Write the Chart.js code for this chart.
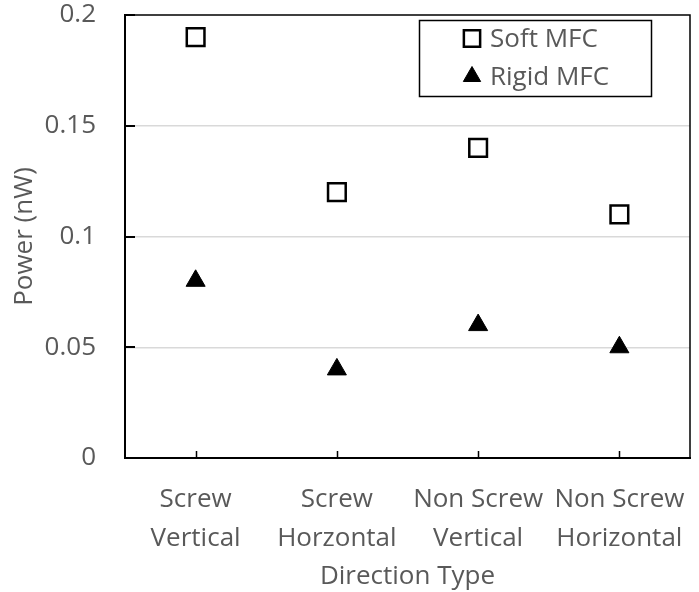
<!DOCTYPE html>
<html>
<head>
<meta charset="utf-8">
<script src="https://cdn.jsdelivr.net/npm/chart.js@4"></script>
<style>
  html, body { margin: 0; padding: 0; background: #fff; }
  #wrap { width: 699px; height: 592px; }
</style>
</head>
<body>
<div id="wrap"><canvas id="powerChart" width="699" height="592"></canvas></div>
<script>
// data
var directionTypes = [
    ['Screw', 'Vertical'],
    ['Screw', 'Horzontal'],
    ['Non Screw', 'Vertical'],
    ['Non Screw', 'Horizontal']
];
var softMFC = [0.19, 0.12, 0.14, 0.11];
var rigidMFC = [0.08, 0.04, 0.06, 0.05];
var powerTicks = [0, 0.05, 0.1, 0.15, 0.2];
var powerTickLabels = ['0', '0.05', '0.1', '0.15', '0.2'];

var textGrey = '#595959';
var fontFamily = '"Open Sans", Lato, sans-serif';
var fontSize = 26;
var plotRight = 690;

// frame, inward tick marks and the boxed legend
var framePlugin = {
    id: 'frame',
    afterLayout: function(chart) {
        // pin the right edge of the plot like the original
        var area = chart.chartArea;
        var xScale = chart.scales.x;
        area.right = plotRight;
        area.width = area.right - area.left;
        xScale.right = plotRight;
        xScale.width = xScale.right - xScale.left;
        xScale.configure();
        xScale._labelItems = null;
        xScale._gridLineItems = null;
        chart.scales.y._gridLineItems = null;
    },
    afterDatasetsDraw: function(chart) {
        var ctx = chart.ctx;
        var area = chart.chartArea;
        var xScale = chart.scales.x;
        var yScale = chart.scales.y;
        ctx.save();
        ctx.strokeStyle = '#000';

        // top and right border
        ctx.lineWidth = 1.5;
        ctx.beginPath();
        ctx.moveTo(area.left, area.top);
        ctx.lineTo(area.right, area.top);
        ctx.lineTo(area.right, area.bottom);
        ctx.stroke();

        // y ticks pointing inwards
        ctx.lineWidth = 2;
        ctx.beginPath();
        powerTicks.forEach(function(v) {
            var y = Math.round(yScale.getPixelForValue(v));
            ctx.moveTo(area.left, y);
            ctx.lineTo(area.left + 10, y);
        });
        ctx.stroke();

        // x ticks pointing inwards
        ctx.lineWidth = 1.5;
        ctx.beginPath();
        directionTypes.forEach(function(lbl, i) {
            var x = Math.round(xScale.getPixelForValue(i)) + 0.5;
            ctx.moveTo(x, area.bottom);
            ctx.lineTo(x, area.bottom - 7);
        });
        ctx.stroke();

        // legend
        var box = { x: 419.5, y: 20.5, w: 232, h: 76 };
        ctx.fillStyle = '#fff';
        ctx.fillRect(box.x, box.y, box.w, box.h);
        ctx.lineWidth = 1.5;
        ctx.strokeRect(box.x, box.y, box.w, box.h);
        ctx.font = fontSize + 'px ' + fontFamily;
        ctx.textBaseline = 'middle';
        ctx.textAlign = 'left';
        chart.data.datasets.forEach(function(ds, i) {
            var cy = box.y + 18 + i * 38;
            ctx.fillStyle = ds.pointBackgroundColor;
            ctx.strokeStyle = ds.pointBorderColor;
            ctx.lineWidth = ds.pointBorderWidth;
            Chart.helpers.drawPoint(ctx, {
                pointStyle: ds.pointStyle,
                radius: ds.legendRadius,
                borderWidth: ds.pointBorderWidth
            }, 472, cy);
            ctx.fillStyle = textGrey;
            ctx.fillText(ds.label, 490, cy + 1);
        });
        ctx.restore();
    }
};

var ctx = document.getElementById('powerChart').getContext('2d');
var powerChart = new Chart(ctx, {
    type: 'line',
    data: {
        labels: directionTypes,
        datasets: [{
            label: 'Soft MFC',
            data: softMFC,
            showLine: false,
            pointStyle: 'rect',
            pointRadius: 12.5,
            legendRadius: 11.5,
            pointBorderWidth: 2.5,
            pointBorderColor: '#000',
            pointBackgroundColor: '#fff'
        }, {
            label: 'Rigid MFC',
            data: rigidMFC,
            showLine: false,
            pointStyle: 'triangle',
            pointRadius: 11,
            legendRadius: 10,
            pointBorderWidth: 1,
            pointBorderColor: '#000',
            pointBackgroundColor: '#000'
        }]
    },
    options: {
        responsive: false,
        devicePixelRatio: 1,
        animation: false,
        layout: {
            padding: { top: 13, right: 3, left: 0, bottom: 0 }
        },
        plugins: {
            legend: { display: false },
            tooltip: { enabled: false }
        },
        scales: {
            x: {
                offset: true,
                grid: { display: false, drawTicks: false },
                border: { display: true, color: '#000', width: 2 },
                ticks: {
                    color: textGrey,
                    font: { family: fontFamily, size: fontSize, lineHeight: 1.5 },
                    padding: 22,
                    maxRotation: 0,
                    autoSkip: false
                },
                title: {
                    display: true,
                    text: 'Direction Type',
                    color: textGrey,
                    font: { family: fontFamily, size: fontSize },
                    padding: { top: 0, bottom: 0 }
                },
                afterFit: function(scale) {
                    scale.height = 134;
                    scale.paddingLeft = 0;
                    scale.paddingRight = 0;
                }
            },
            y: {
                min: 0,
                max: 0.2,
                afterBuildTicks: function(scale) {
                    scale.ticks = powerTicks.map(function(v) { return { value: v }; });
                },
                grid: {
                    drawTicks: false,
                    color: function(c) {
                        return (c.tick && (c.tick.value === 0 || c.tick.value === 0.2)) ? 'rgba(0,0,0,0)' : '#d9d9d9';
                    },
                    lineWidth: 1.5
                },
                border: { display: true, color: '#000', width: 2 },
                ticks: {
                    color: textGrey,
                    font: { family: fontFamily, size: fontSize },
                    padding: 29,
                    callback: function(value, index) { return powerTickLabels[index]; }
                },
                title: {
                    display: true,
                    text: 'Power (nW)',
                    color: textGrey,
                    font: { family: fontFamily, size: fontSize },
                    padding: { top: 9, bottom: 0 }
                },
                afterFit: function(scale) {
                    scale.width = 125;
                    scale.paddingTop = 0;
                    scale.paddingBottom = 0;
                }
            }
        }
    },
    plugins: [framePlugin]
});
</script>
</body>
</html>
